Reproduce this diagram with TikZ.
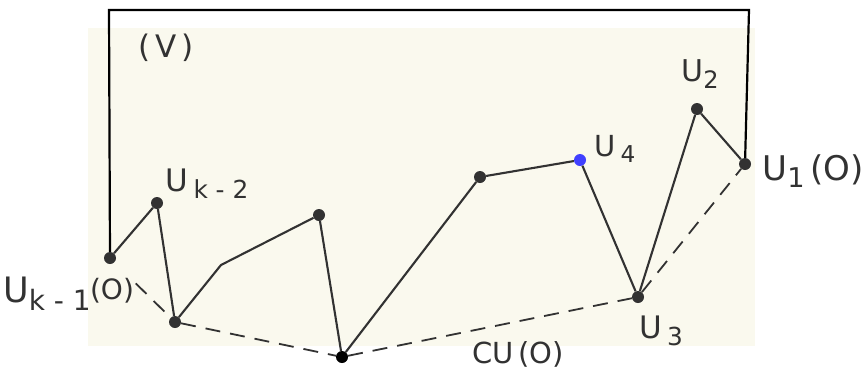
\documentclass[tikz,border=0pt]{standalone}
\usepackage{fontspec}
\setmainfont{DejaVu Sans}
\usetikzlibrary{positioning}
\definecolor{paper}{RGB}{250,249,238}
\definecolor{ink}{RGB}{50,50,50}
\newcommand{\lowidx}[1]{\raisebox{-0.4ex}{\scalebox{0.8}{#1}}}

\begin{document}
\begin{tikzpicture}[x=1pt, y=-1pt,
  dot/.style={circle, fill=ink, inner sep=0pt, minimum size=12pt},
  lbl/.style={text=ink, inner sep=0pt, font=\fontsize{#1}{#1}\selectfont},
  edge/.style={draw=ink, line width=2.1pt},
  frame/.style={draw=black, line width=2.2pt},
  hull/.style={draw=ink, line width=1.8pt, dash pattern=on 15pt off 10pt}]
\useasboundingbox (0,0) rectangle (862,373);
\fill[paper] (88,28) rectangle (755,346);
\node[dot] (uk1) at (110,258) {};
\node[dot] (uk2) at (157,203) {};
\node[dot] (a) at (175,322) {};
\coordinate (bend) at (221,265);
\node[dot] (pk) at (319,215) {};
\node[dot, fill=black] (cu) at (342,357) {};
\node[dot] (p) at (480,177) {};
\node[dot, fill=blue!75] (u4) at (580,160) {};
\node[dot] (u3) at (638,297) {};
\node[dot] (u2) at (697,109) {};
\node[dot] (u1) at (745,164) {};
\coordinate (tl) at (109,10);
\coordinate (tr) at (749,10);
\draw[frame] (uk1) -- (tl) -- (tr) -- (u1);
\draw[edge] (uk1) -- (uk2) -- (a) -- (bend) -- (pk) -- (cu) -- (p) -- (u4) -- (u3) -- (u2) -- (u1);
\draw[hull, shorten <=30pt] (uk1) -- (a);
\draw[hull] (a) -- (cu) -- (u3) -- (u1);
\node[lbl=31] (vlab) at (166,48) {(\,V\,)};
\node[lbl=31] (uk2lab) at (207,184) {U\,\lowidx{k - 2}};
\node[lbl=35] (uk1lab) at (47,294) {U\lowidx{k - 1}};
\node[lbl=28] (o1lab) at (112,291) {(O)};
\node[lbl=29] (u4lab) at (615,149) {U\,\lowidx{4}};
\node[lbl=30] (u2lab) at (700,74) {U\lowidx{2}};
\node[lbl=34] (u1lab) at (813,171) {U\lowidx{1}\,(O)};
\node[lbl=31] (u3lab) at (661,331) {U\,\lowidx{3}};
\node[lbl=29] (culab) at (518,354) {CU\,(O)};
\end{tikzpicture}
\end{document}
